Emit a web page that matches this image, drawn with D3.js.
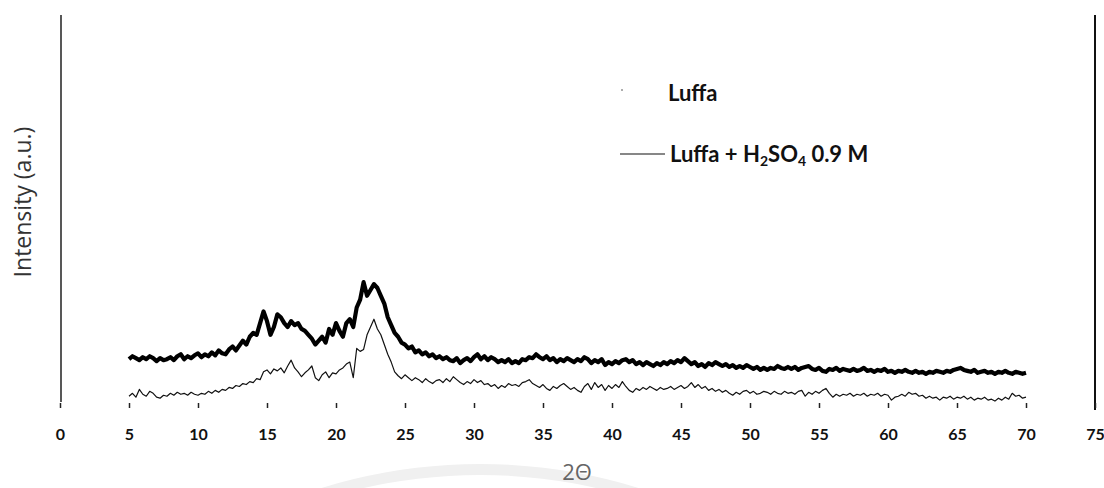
<!DOCTYPE html>
<html>
<head>
<meta charset="utf-8">
<script src="https://cdn.jsdelivr.net/npm/d3@7/dist/d3.min.js"></script>
<style>
  html, body { margin: 0; padding: 0; background: #fff; }
  svg { display: block; }
</style>
</head>
<body>
<svg id="chart" width="1104" height="488"></svg>
<script>
// X-ray diffraction patterns, 2θ from 5° to 70° in 0.25° steps
const angleStart = 5;
const angleStep = 0.25;

// Raw luffa fibre (thick trace)
const luffa = [
  47, 50, 48, 46,  49, 47, 50, 48,  45, 48, 46, 47,  49, 46, 50, 52,
  47, 50, 48, 51,  53, 49, 52, 50,  54, 51, 56, 53,  52, 57, 60, 56,
  61, 66, 62, 70,  74, 72, 84, 96,  86, 72, 80, 93,  90, 84, 80, 86,
  82, 84, 78, 76,  72, 68, 62, 66,  70, 64, 78, 72,  84, 76, 70, 84,
  88, 80, 100, 108, 126, 112, 118, 124, 120, 112, 104, 90, 82, 74, 70, 64,
  62, 58, 60, 54,  56, 52, 54, 50,  52, 48, 50, 47,  49, 46, 45, 48,
  43, 46, 48, 45,  49, 52, 47, 50,  46, 49, 47, 44,  46, 44, 47, 43,
  45, 43, 47, 46,  49, 48, 52, 49,  47, 50, 46, 48,  44, 47, 45, 48,
  46, 44, 47, 45,  49, 47, 43, 46,  44, 47, 41, 44,  42, 45, 43, 46,
  47, 44, 46, 42,  44, 41, 44, 42,  40, 43, 41, 44,  42, 45, 43, 46,
  44, 48, 45, 42,  44, 40, 42, 39,  43, 41, 44, 42,  40, 42, 39, 41,
  38, 40, 38, 41,  39, 37, 39, 36,  38, 36, 38, 37,  40, 38, 37, 39,
  37, 39, 36, 38,  39, 40, 37, 36,  38, 35, 34, 37,  36, 38, 35, 37,
  36, 35, 37, 35,  36, 38, 35, 36,  34, 36, 35, 37,  34, 35, 33, 35,
  34, 36, 34, 33,  35, 33, 34, 32,  34, 33, 35, 34,  33, 35, 34, 36,
  37, 38, 36, 35,  34, 36, 33, 34,  35, 33, 34, 32,  34, 33, 35, 33,
  32, 34, 33, 32,  33
];

// Luffa treated with 0.9 M H2SO4 (thin trace)
const luffaAcid = [
  9, 12, 8, 16,  11, 9, 14, 12,  8, 7, 10, 9,  12, 10, 13, 11,
  12, 10, 13, 11,  10, 12, 11, 14,  12, 15, 13, 16,  15, 18, 17, 20,
  19, 22, 21, 24,  23, 27, 26, 34,  36, 32, 37, 35,  38, 33, 40, 46,
  38, 34, 29, 33,  36, 40, 28, 25,  31, 34, 28, 33,  32, 36, 38, 42,
  44, 28, 58, 55,  57, 72, 80, 88,  78, 72, 62, 52,  44, 34, 30, 27,
  31, 28, 25, 28,  26, 23, 27, 24,  22, 25, 26, 23,  27, 24, 29, 26,
  23, 21, 24, 22,  26, 23, 25, 21,  22, 19, 21, 17,  20, 18, 22, 20,
  21, 19, 23, 24,  26, 22, 20, 18,  21, 17, 15, 19,  17, 20, 22, 19,
  16, 18, 15, 13,  19, 22, 16, 23,  18, 21, 15, 20,  17, 21, 18, 24,
  19, 15, 13, 17,  15, 18, 16, 19,  17, 15, 18, 16,  17, 19, 16, 18,
  20, 17, 19, 23,  18, 21, 17, 19,  15, 17, 14, 16,  13, 15, 12, 10,
  13, 11, 14, 15,  12, 14, 11, 12,  14, 13, 11, 14,  12, 11, 14, 12,
  13, 11, 14, 15,  9, 13, 11, 14,  12, 15, 17, 12,  8, 11, 9, 11,
  10, 12, 9, 11,  10, 12, 9, 11,  10, 12, 9, 11,  10, 5, 8, 9,
  11, 9, 13, 11,  12, 9, 10, 7,  9, 7, 8, 5,  8, 7, 9, 6,
  8, 7, 9, 6,  8, 5, 7, 6,  8, 5, 6, 4,  7, 5, 8, 6,
  12, 9, 10, 7,  8
];

const xTicks = [0, 5, 10, 15, 20, 25, 30, 35, 40, 45, 50, 55, 60, 65, 70, 75];
const seriesNames = ["Luffa", "Luffa + H\u2082SO\u2084 0.9 M"];

const svg = d3.select("#chart");

const x = d3.scaleLinear().domain([0, 75]).range([60, 1095]);
const y = d3.scaleLinear().domain([0, 400]).range([405, 15]);

const toPoints = arr => arr.map((v, i) => [angleStart + i * angleStep, v]);

// faint watermark arc behind the axis title
svg.append("path")
  .attr("d", d3.arc()({ innerRadius: 525, outerRadius: 536, startAngle: -0.95, endAngle: 0.95 }))
  .attr("transform", "translate(480,1000)")
  .attr("fill", "#f0f0f0");

// vertical frame lines at both ends of the 2θ range
svg.append("line")
  .attr("x1", x(0) + 1).attr("x2", x(0) + 1)
  .attr("y1", 15).attr("y2", 402)
  .attr("stroke", "#111").attr("stroke-width", 1.4);
svg.append("line")
  .attr("x1", x(75)).attr("x2", x(75))
  .attr("y1", 15).attr("y2", 410)
  .attr("stroke", "#111").attr("stroke-width", 2);

// bottom axis: ticks and labels only
const xAxis = d3.axisBottom(x)
  .tickValues(xTicks)
  .tickSize(5)
  .tickPadding(21)
  .tickFormat(d3.format("d"));

const gx = svg.append("g")
  .attr("transform", "translate(0,403)")
  .call(xAxis);
gx.select(".domain").remove();
gx.selectAll(".tick line").attr("stroke", "#222").attr("stroke-width", 1.5);
gx.selectAll(".tick text")
  .attr("fill", "#111")
  .style("font-family", "Lato, 'Open Sans', sans-serif")
  .style("font-weight", "700")
  .style("font-size", "16px");

const line = d3.line()
  .x(d => x(d[0]))
  .y(d => y(d[1]));

svg.append("path")
  .datum(toPoints(luffaAcid))
  .attr("d", line)
  .attr("fill", "none")
  .attr("stroke", "#111")
  .attr("stroke-width", 1.2)
  .attr("stroke-linejoin", "round");

svg.append("path")
  .datum(toPoints(luffa))
  .attr("d", line)
  .attr("fill", "none")
  .attr("stroke", "#000")
  .attr("stroke-width", 4.2)
  .attr("stroke-linejoin", "round");

// legend
const legend = svg.append("g")
  .style("font-family", "Lato, 'Open Sans', sans-serif")
  .style("font-weight", "700")
  .style("font-size", "22px")
  .attr("fill", "#111");

legend.append("circle")
  .attr("cx", 622).attr("cy", 90).attr("r", 0.8)
  .attr("fill", "#444");
legend.append("text")
  .attr("x", 668).attr("y", 101)
  .text(seriesNames[0]);

legend.append("line")
  .attr("x1", 620).attr("x2", 665)
  .attr("y1", 154).attr("y2", 154)
  .attr("stroke", "#111").attr("stroke-width", 1.2);
const t2 = legend.append("text").attr("x", 670).attr("y", 162);
t2.append("tspan").text("Luffa + H");
t2.append("tspan").attr("font-size", "14px").attr("dy", 4).text("2");
t2.append("tspan").attr("dy", -4).text("SO");
t2.append("tspan").attr("font-size", "14px").attr("dy", 4).text("4");
t2.append("tspan").attr("dy", -4).text(" 0.9 M");

// axis titles
svg.append("text")
  .attr("transform", "translate(31,202) rotate(-90)")
  .attr("text-anchor", "middle")
  .style("font-family", "'Open Sans', Lato, sans-serif")
  .style("font-size", "23px")
  .attr("fill", "#333")
  .text("Intensity (a.u.)");

svg.append("text")
  .attr("x", 577).attr("y", 480)
  .attr("text-anchor", "middle")
  .style("font-family", "'Open Sans', Lato, sans-serif")
  .style("font-size", "22px")
  .attr("fill", "#666")
  .text("2\u0398");
</script>
</body>
</html>
